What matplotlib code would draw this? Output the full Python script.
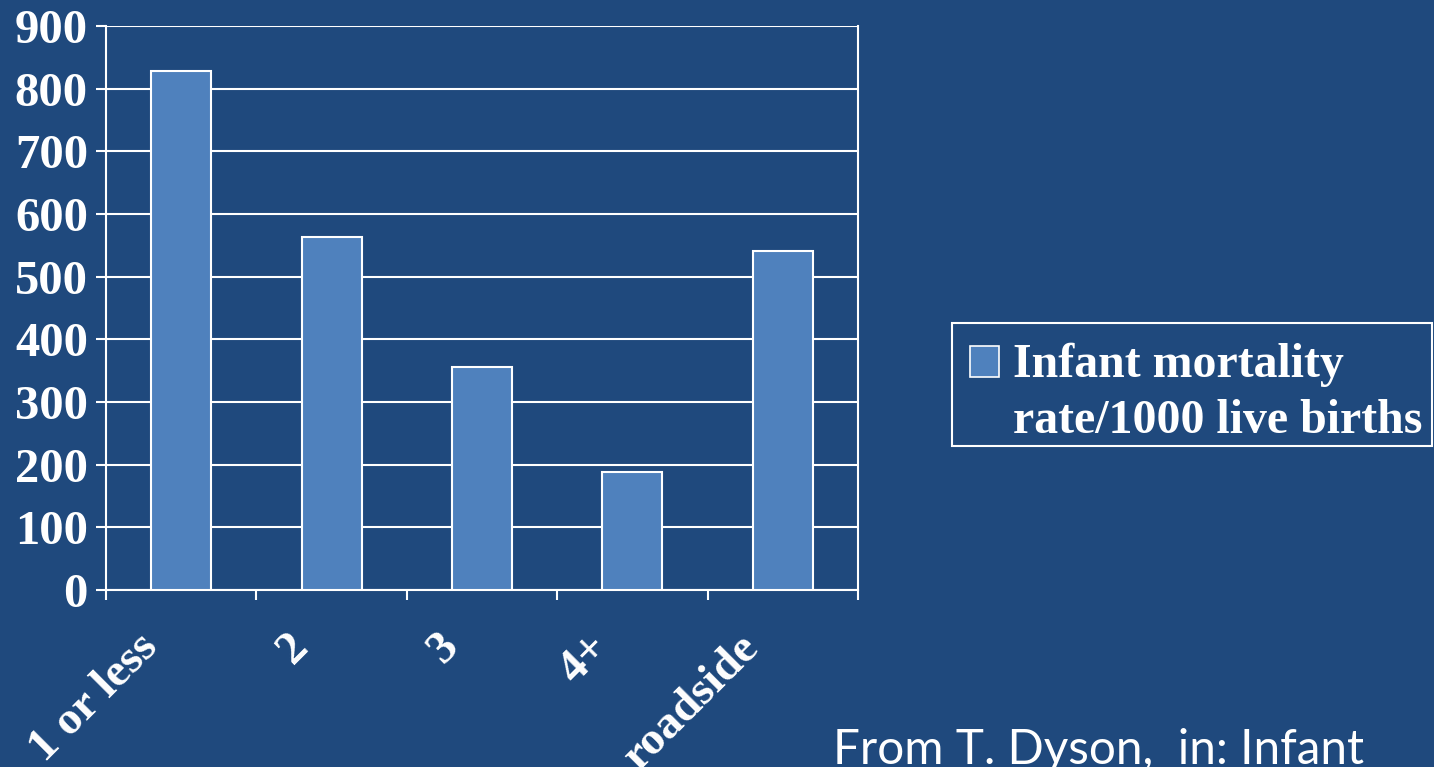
import matplotlib
matplotlib.use("Agg")
import matplotlib.pyplot as plt
import matplotlib.transforms as mtransforms
from matplotlib.patches import Rectangle

# Infant mortality by distance/location category
categories = ["1 or less", "2", "3", "4+", "roadside"]
mortality = [828, 563, 356, 188, 541]
y_ticks = [0, 100, 200, 300, 400, 500, 600, 700, 800, 900]
series_label = "Infant mortality\nrate/1000 live births"
source_note = "From T. Dyson,  in: Infant"

BG = "#1F497D"
BAR = "#4F81BD"
SERIF = "Liberation Serif"

fig = plt.figure(figsize=(14.34, 7.67), dpi=100, facecolor=BG)
ax = fig.add_axes([106 / 1434, 1 - 590 / 767, 752 / 1434, 564 / 767])
ax.set_facecolor(BG)

x = list(range(len(categories)))
ax.bar(x, mortality, width=0.4, color=BAR, edgecolor="white", linewidth=1.5, zorder=3)

ax.set_xlim(-0.5, len(categories) - 0.5)
ax.set_ylim(0, 900)
ax.set_yticks(y_ticks)
ax.set_yticklabels([str(v) for v in y_ticks], fontfamily=SERIF, fontweight="bold",
                   fontsize=35, color="white")
ax.yaxis.grid(True, color="white", linewidth=1.5, zorder=1)
ax.set_axisbelow(True)

# category labels sit under each bar, tick marks on the boundaries
ax.set_xticks(x)
ax.set_xticklabels(categories, rotation=45, ha="right", va="top",
                   fontfamily=SERIF, fontweight="bold", fontsize=34, color="white")
ax.set_xticks([i - 0.5 for i in range(len(categories) + 1)], minor=True)
ax.tick_params(axis="x", which="major", length=0, pad=26)
ax.tick_params(axis="x", which="minor", length=7, width=1.5, color="white")
ax.tick_params(axis="y", length=7, width=1.5, color="white", pad=6)
shift = mtransforms.ScaledTranslation(-15 / 100, 0, fig.dpi_scale_trans)
for lbl in ax.get_xticklabels():
    lbl.set_transform(lbl.get_transform() + shift)

for side in ["left", "bottom", "right"]:
    ax.spines[side].set_color("white")
    ax.spines[side].set_linewidth(1.5)
ax.spines["top"].set_visible(False)

# legend box
fig.patches.append(Rectangle((952 / 1434, 1 - 446 / 767), 480 / 1434, 123 / 767,
                             transform=fig.transFigure, facecolor="none",
                             edgecolor="white", linewidth=1.5))
fig.patches.append(Rectangle((970 / 1434, 1 - 377 / 767), 29 / 1434, 31 / 767,
                             transform=fig.transFigure, facecolor=BAR,
                             edgecolor="white", linewidth=1.2))
for i, line in enumerate(series_label.split("\n")):
    fig.text(1013 / 1434, 1 - (377 + 56 * i) / 767, line, fontfamily=SERIF,
             fontweight="bold", fontsize=34.5, color="white", ha="left", va="baseline")

fig.text(833 / 1434, 1 - 764 / 767, source_note, fontfamily="Lato", fontsize=34.3,
         color="white", ha="left", va="baseline")

fig.savefig("out.png", dpi=100, facecolor=BG)
